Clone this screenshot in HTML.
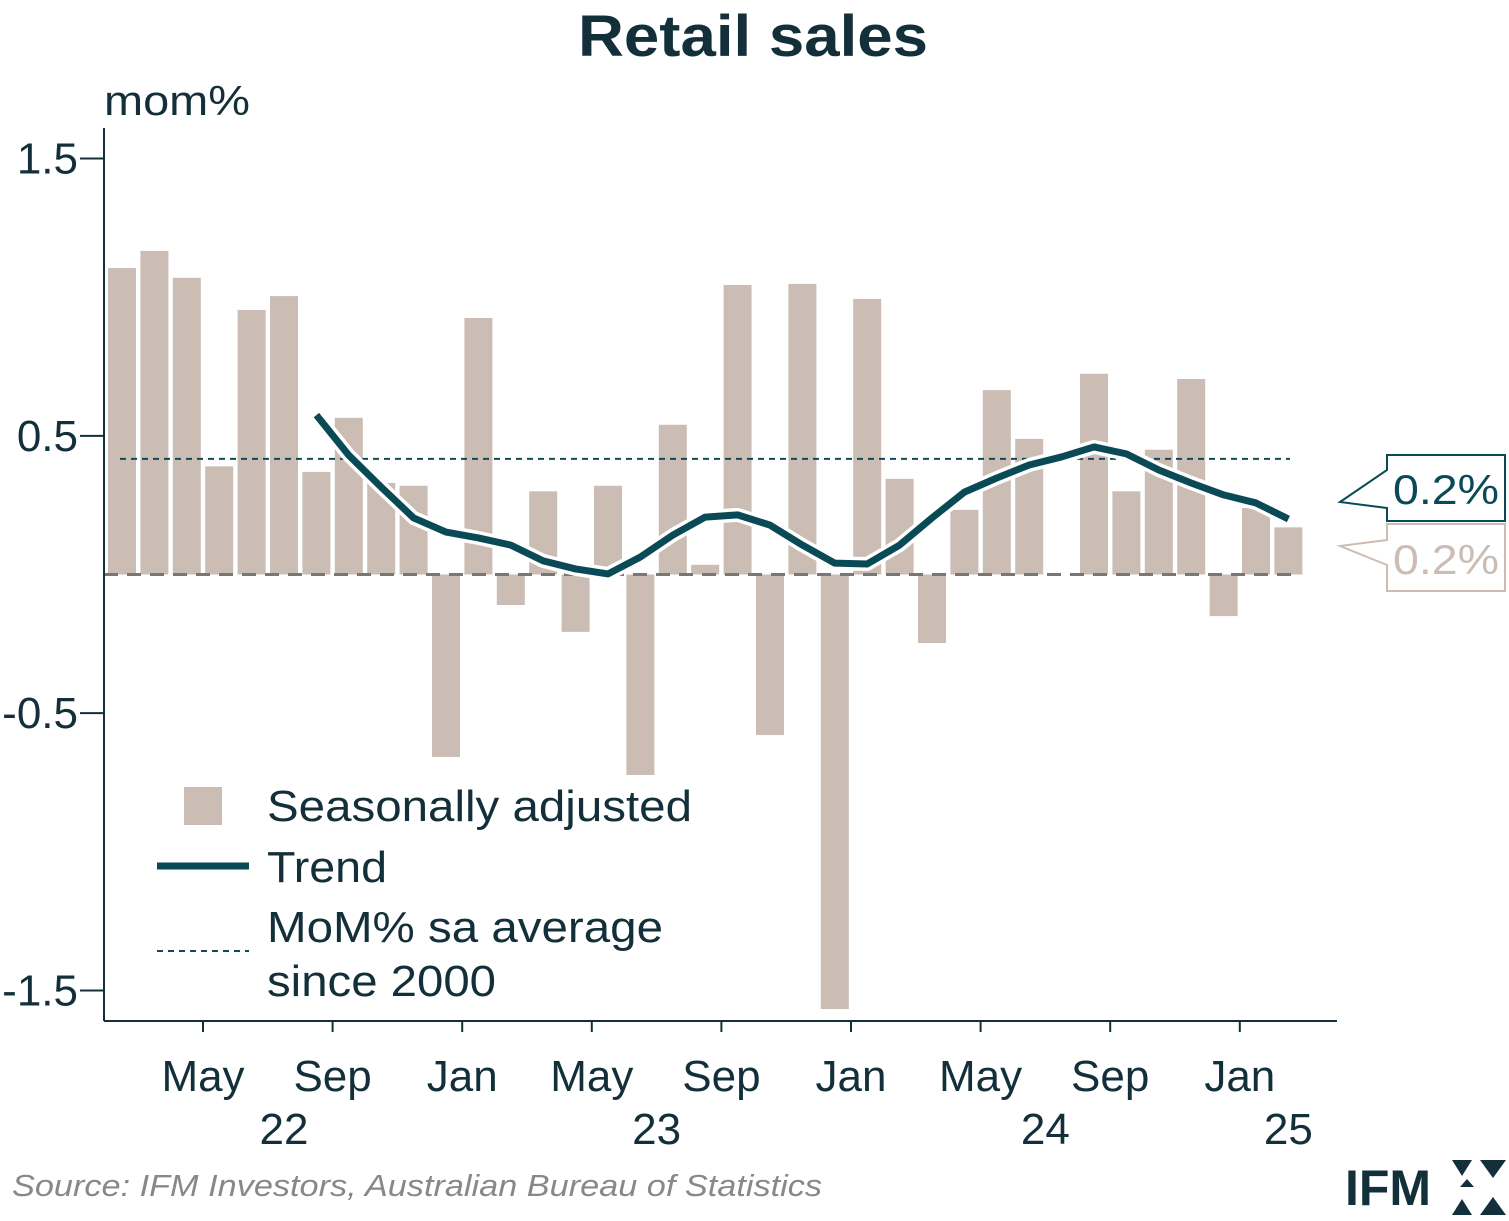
<!DOCTYPE html>
<html><head><meta charset="utf-8"><style>
body{margin:0;background:#fff;}
svg{display:block;font-family:"Liberation Sans",sans-serif;}
</style></head><body>
<svg id="chart" width="1509" height="1221" viewBox="0 0 1509 1221">
<text x="753" y="56" text-anchor="middle" font-size="58" font-weight="bold" fill="#13303a" textLength="350" lengthAdjust="spacingAndGlyphs">Retail sales</text>
<text x="104" y="115" font-size="42" fill="#13303a" textLength="146" lengthAdjust="spacingAndGlyphs">mom%</text>
<g id="bars"></g>
<line x1="120" x2="1290" id="avg" stroke="#0e4a58" stroke-width="2" stroke-dasharray="6,5"/>
<line x1="104" x2="1297" id="zero" stroke="#777" stroke-width="3" stroke-dasharray="14,9"/>
<path id="trendBg" fill="none" stroke="#fff" stroke-width="14" stroke-linejoin="round"/>
<path id="trend" fill="none" stroke="#0a4a56" stroke-width="7" stroke-linejoin="round"/>
<g id="axes" stroke="#13303a" stroke-width="2">
<line x1="104" y1="128" x2="104" y2="1021"/>
<line x1="104" y1="1021" x2="1337" y2="1021"/>
</g>
<g id="yticks"></g><g id="xticks"></g>
<g font-size="44" fill="#13303a">
<rect x="184" y="787" width="38" height="38" fill="#cbbdb4"/>
<text x="267" y="821" textLength="425" lengthAdjust="spacingAndGlyphs">Seasonally adjusted</text>
<line x1="157" x2="249" y1="866" y2="866" stroke="#0a4a56" stroke-width="7"/>
<text x="267" y="882" textLength="120" lengthAdjust="spacingAndGlyphs">Trend</text>
<line x1="157" x2="249" y1="951" y2="951" stroke="#0e4a58" stroke-width="2" stroke-dasharray="6,5"/>
<text x="267" y="942" textLength="396" lengthAdjust="spacingAndGlyphs">MoM% sa average</text>
<text x="267" y="996" textLength="229" lengthAdjust="spacingAndGlyphs">since 2000</text>
</g>
<g>
<path d="M1387,455 H1505 V521 H1387 V508 L1340,502 L1387,470 Z" fill="#fff" stroke="#0a4a56" stroke-width="2"/>
<text x="1446" y="504" text-anchor="middle" font-size="42" fill="#0a4a56" textLength="106" lengthAdjust="spacingAndGlyphs">0.2%</text>
</g>
<g>
<path d="M1387,524 H1505 V591 H1387 V565 L1340,546 L1387,540 Z" fill="#fff" stroke="#cbbdb4" stroke-width="2"/>
<text x="1446" y="574" text-anchor="middle" font-size="42" fill="#cbbdb4" textLength="106" lengthAdjust="spacingAndGlyphs">0.2%</text>
</g>
<text x="12" y="1196" font-size="31" font-style="italic" fill="#888" textLength="810" lengthAdjust="spacingAndGlyphs">Source: IFM Investors, Australian Bureau of Statistics</text>
<g>
<text x="1345" y="1205" font-size="50" font-weight="bold" fill="#13303a">IFM</text>
<path d="M1452,1160 h20 l-10,16 z M1480,1160 h26 l-13,18 z M1452,1215 h20 l-10,-16 z M1480,1215 h26 l-13,-18 z M1460,1187 l14,0 -7,-8z" fill="#13303a"/>
</g>
</svg>
<script>
const saValues=[1.105,1.167,1.07,0.39,0.954,1.004,0.37,0.565,0.33,0.32,-0.658,0.925,-0.11,0.30,-0.207,0.32,-0.723,0.54,0.035,1.044,-0.579,1.048,-1.567,0.994,0.345,-0.247,0.233,0.665,0.489,0.0,0.724,0.30,0.45,0.705,-0.15,0.24,0.17];
const trendStart=6;
const trendValues=[0.575,0.43,0.315,0.204,0.153,0.132,0.106,0.049,0.02,0.002,0.063,0.142,0.207,0.215,0.178,0.106,0.041,0.038,0.106,0.204,0.297,0.348,0.395,0.424,0.46,0.435,0.377,0.33,0.287,0.258,0.2];
const avgValue=0.417;
const yTicks=[1.5,0.5,-0.5,-1.5];
const yTickLabels=["1.5","0.5","-0.5","-1.5"];
const xTickLabels=["May","Sep","Jan","May","Sep","Jan","May","Sep","Jan"];
const yearLabels=["22","23","24","25"];
const yearPos=[5,16.5,28.5,36];
const NS="http://www.w3.org/2000/svg";
const y=v=>574.5-v*277.3;
const x=i=>122+i*32.4;
function mk(tag,attrs,parent){const e=document.createElementNS(NS,tag);for(const k in attrs)e.setAttribute(k,attrs[k]);parent.appendChild(e);return e;}
const bars=document.getElementById('bars');
saValues.forEach((v,i)=>{
 const r=mk('rect',{x:x(i)-14,y:Math.min(y(v),y(0)),width:28,height:Math.abs(y(v)-y(0)),fill:'#cbbdb4'},bars);
 
 
});
document.getElementById('avg').setAttribute('y1',y(avgValue));
document.getElementById('avg').setAttribute('y2',y(avgValue));
document.getElementById('zero').setAttribute('y1',y(0));
document.getElementById('zero').setAttribute('y2',y(0));
const d=trendValues.map((v,k)=>(k?'L':'M')+x(trendStart+k)+','+y(v)).join(' ');
document.getElementById('trend').setAttribute('d',d);
document.getElementById('trendBg').setAttribute('d',d);
const yt=document.getElementById('yticks');
yTicks.forEach((v,k)=>{
 const l=mk('line',{x1:80,x2:104,y1:y(v),y2:y(v),stroke:'#13303a','stroke-width':2},yt);
 
 
 const t=mk('text',{x:78,y:y(v)+15,'text-anchor':'end','font-size':44,fill:'#13303a'},yt);
 t.textContent=yTickLabels[k];
 
 
});
const xt=document.getElementById('xticks');
xTickLabels.forEach((s,k)=>{
 const px=x(2.5+4*k);
 const l=mk('line',{x1:px,x2:px,y1:1021,y2:1032,stroke:'#13303a','stroke-width':2},xt);
 
 
 const t=mk('text',{x:px,y:1091,'text-anchor':'middle','font-size':44,fill:'#13303a'},xt);
 t.textContent=s;
 
 
});
yearLabels.forEach((s,k)=>{
 const t=mk('text',{x:x(yearPos[k]),y:1144,'text-anchor':'middle','font-size':44,fill:'#13303a'},xt);
 t.textContent=s;
 
 
});
</script>
</body></html>
